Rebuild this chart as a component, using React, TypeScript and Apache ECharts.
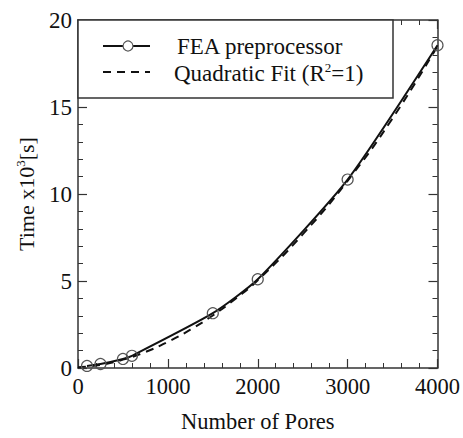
import React, { useEffect, useRef } from "react";
import * as echarts from "echarts";

const poreCounts = [100, 250, 500, 600, 1500, 2000, 3000, 4000];
const feaTimes = [0.12, 0.23, 0.52, 0.7, 3.15, 5.1, 10.83, 18.55];
const fitX = [0, 250, 500, 750, 1000, 1250, 1500, 1750, 2000, 2500, 3000, 3500, 4000];
const fitY = [0.05, 0.18, 0.48, 0.92, 1.5, 2.2, 3.02, 3.97, 5.04, 7.68, 10.76, 14.35, 18.5];
const xTicks = [0, 1000, 2000, 3000, 4000];
const yTicks = [0, 5, 10, 15, 20];

const FONT = "'Liberation Serif', 'DejaVu Serif', serif";
const INK = "#111";

export default function App() {
  const ref = useRef<HTMLDivElement>(null);
  useEffect(() => {
    if (!ref.current) return;
    const chart = echarts.init(ref.current, undefined, { renderer: "svg" });
    const axisCommon = {
      axisLine: { show: true, onZero: false, lineStyle: { color: "#333", width: 1.5 } },
      axisTick: { show: true, inside: true, length: 9, lineStyle: { color: "#333", width: 1.2 } },
      minorTick: { show: true, splitNumber: 5, length: 5, lineStyle: { color: "#333", width: 1 } },
      splitLine: { show: false },
    };
    const xMain = {
      type: "value",
      min: xTicks[0],
      max: xTicks[xTicks.length - 1],
      interval: xTicks[1] - xTicks[0],
      ...axisCommon,
    };
    const yMain = {
      type: "value",
      min: yTicks[0],
      max: yTicks[yTicks.length - 1],
      interval: yTicks[1] - yTicks[0],
      ...axisCommon,
    };
    chart.setOption({
      animation: false,
      backgroundColor: "#fff",
      grid: { left: 78, right: 23, top: 20, bottom: 64, containLabel: false },
      xAxis: [
        {
          ...xMain,
          position: "bottom",
          name: "Number of Pores",
          nameLocation: "middle",
          nameGap: 42,
          nameTextStyle: { fontFamily: FONT, fontSize: 22.5, color: INK },
          axisLabel: {
            fontFamily: FONT,
            fontSize: 22.5,
            color: INK,
            margin: 7,
            formatter: (v: number) => String(v),
          },
        },
        { ...xMain, position: "top", axisLabel: { show: false } },
      ],
      yAxis: [
        {
          ...yMain,
          position: "left",
          name: "{a|Time x10}{s|3}{a|[s]}",
          nameLocation: "middle",
          nameGap: 40,
          nameTextStyle: {
            fontFamily: FONT,
            fontSize: 22,
            color: INK,
            rich: {
              a: { fontFamily: FONT, fontSize: 22, color: INK },
              s: { fontFamily: FONT, fontSize: 13, color: INK, padding: [0, 0, 11, 0] },
            },
          },
          axisLabel: { fontFamily: FONT, fontSize: 23, color: INK, margin: 6 },
        },
        { ...yMain, position: "right", axisLabel: { show: false } },
      ],
      series: [
        {
          name: "Quadratic Fit",
          type: "line",
          xAxisIndex: 0,
          yAxisIndex: 0,
          data: fitX.map((x, i) => [x, fitY[i]]),
          smooth: true,
          showSymbol: false,
          symbol: "none",
          lineStyle: { color: "#111", width: 2, type: [8, 6] },
          z: 2,
        },
        {
          name: "FEA preprocessor",
          type: "line",
          xAxisIndex: 0,
          yAxisIndex: 0,
          data: poreCounts.map((x, i) => [x, feaTimes[i]]),
          smooth: 0.2,
          symbol: "circle",
          symbolSize: 11,
          showSymbol: true,
          itemStyle: { color: "rgba(255,255,255,0)", borderColor: "#555", borderWidth: 1.2 },
          lineStyle: { color: "#111", width: 2 },
          z: 3,
        },
      ],
      graphic: [
        {
          type: "rect",
          shape: { x: 78, y: 20, width: 315, height: 78 },
          style: { fill: "#fff", stroke: "#333", lineWidth: 1.5 },
          z: 10,
        },
        {
          type: "line",
          shape: { x1: 103, y1: 46, x2: 150, y2: 46 },
          style: { stroke: "#111", lineWidth: 2 },
          z: 11,
        },
        {
          type: "circle",
          shape: { cx: 128, cy: 46, r: 5 },
          style: { fill: "#fff", stroke: "#555", lineWidth: 1.2 },
          z: 12,
        },
        {
          type: "line",
          shape: { x1: 103, y1: 72, x2: 150, y2: 72 },
          style: { stroke: "#111", lineWidth: 2, lineDash: [8, 6] },
          z: 11,
        },
        {
          type: "text",
          x: 177,
          y: 46,
          style: {
            text: "FEA preprocessor",
            fontFamily: FONT,
            fontSize: 23,
            fill: INK,
            verticalAlign: "middle",
          },
          z: 12,
        },
        {
          type: "text",
          x: 174,
          y: 73,
          style: {
            text: "{a|Quadratic Fit (R}{s|2}{a|=1)}",
            fontFamily: FONT,
            fontSize: 23,
            fill: INK,
            verticalAlign: "middle",
            rich: {
              a: { fontFamily: FONT, fontSize: 23, fill: INK },
              s: { fontFamily: FONT, fontSize: 13, fill: INK, padding: [0, 0, 11, 0] },
            },
          },
          z: 12,
        },
      ],
    });
    return () => chart.dispose();
  }, []);
  return (
    <div
      style={{
        position: "fixed",
        left: 0,
        top: 0,
        width: 463,
        height: 438,
        overflow: "hidden",
        background: "#fff",
      }}
    >
      <div ref={ref} style={{ width: 463, height: 438 }} />
    </div>
  );
}
